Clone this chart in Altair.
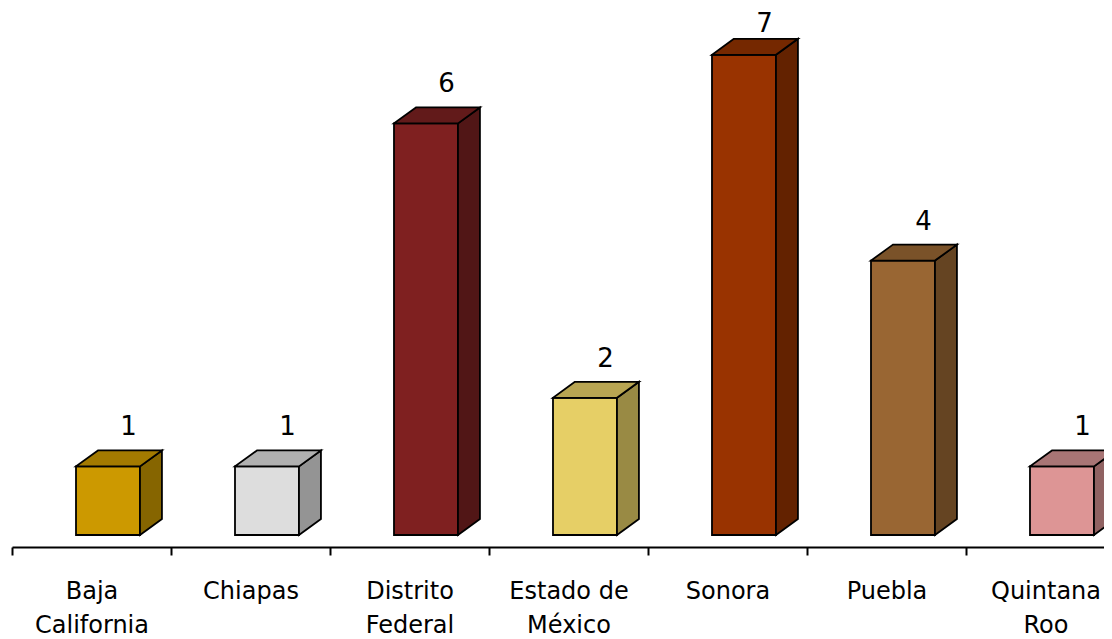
import altair as alt
import pandas as pd

# ---- data ----
categories = ["Baja California", "Chiapas", "Distrito Federal", "Estado de México",
              "Sonora", "Puebla", "Quintana Roo"]
tick_labels = ["Baja|California", "Chiapas", "Distrito|Federal", "Estado de|México",
               "Sonora", "Puebla", "Quintana|Roo"]
values = [1, 1, 6, 2, 7, 4, 1]
front_colors = ["#CC9900", "#DDDDDD", "#7F2020", "#E6CF66", "#993300", "#996633", "#DD9595"]
top_colors = ["#A37A00", "#B0B0B0", "#621A1A", "#B8A552", "#752800", "#7A5229", "#A87575"]
side_colors = ["#866500", "#949494", "#511616", "#998A44", "#632200", "#654422", "#906262"]

# ---- styling / geometry constants (in scale units) ----
BAR_START = 0.4025
BAR_WIDTH = 0.4025
DEPTH_X = 0.138
DEPTH_Y = 0.233
LABEL_SHIFT = 0.33
LABEL_GAP = 0.219
LABEL_MAX = 7.33
FONT = "DejaVu Sans"

front_rows, side_rows, top_rows, text_rows = [], [], [], []
for i, (c, v) in enumerate(zip(categories, values)):
    x0 = i + BAR_START
    x1 = x0 + BAR_WIDTH
    front_rows.append(dict(cat=c, x0=x0, x1=x1, y0=0, y1=v, fill=front_colors[i]))
    side_rows.append(dict(cat=c, x=x1, lo=0, hi=v, fill=side_colors[i]))
    side_rows.append(dict(cat=c, x=x1 + DEPTH_X, lo=DEPTH_Y, hi=v + DEPTH_Y, fill=side_colors[i]))
    top_rows.append(dict(cat=c, y=v, a=x0, b=x1, fill=top_colors[i]))
    top_rows.append(dict(cat=c, y=v + DEPTH_Y, a=x0 + DEPTH_X, b=x1 + DEPTH_X, fill=top_colors[i]))
    text_rows.append(dict(cat=c, x=x0 + LABEL_SHIFT,
                          y=min(v + DEPTH_Y + LABEL_GAP, LABEL_MAX), label=str(v)))

front_df = pd.DataFrame(front_rows)
side_df = pd.DataFrame(side_rows)
top_df = pd.DataFrame(top_rows)
text_df = pd.DataFrame(text_rows)

x_scale = alt.Scale(domain=[0, 6.868], nice=False, zero=False)
y_scale = alt.Scale(domain=[-0.175, 7.682], nice=False, zero=False)

label_array = "[" + ",".join("'" + t + "'" for t in tick_labels) + "]"
x_axis = alt.Axis(
    values=list(range(len(categories))),
    labelExpr="split(" + label_array + "[datum.value], '|')",
    labelOffset=79.5,
    labelFlush=False,
    labelOverlap=False,
    labelAlign="center",
    labelBaseline="top",
    labelFont=FONT,
    labelFontSize=24,
    labelColor="black",
    labelLineHeight=34,
    labelPadding=24,
    tickSize=8,
    tickWidth=2,
    tickColor="black",
    domainColor="black",
    domainWidth=2,
    grid=False,
    title=None,
)

front = alt.Chart(front_df).mark_rect(stroke="black", strokeWidth=1.8, clip=True).encode(
    x=alt.X("x0:Q", scale=x_scale, axis=x_axis),
    x2="x1:Q",
    y=alt.Y("y0:Q", scale=y_scale, axis=None),
    y2="y1:Q",
    color=alt.Color("fill:N", scale=None),
)

side = alt.Chart(side_df).mark_area(stroke="black", strokeWidth=1.8, clip=True,
                                    orient="vertical", opacity=1).encode(
    x=alt.X("x:Q", scale=x_scale, axis=x_axis),
    y=alt.Y("lo:Q", scale=y_scale, axis=None),
    y2="hi:Q",
    detail="cat:N",
    color=alt.Color("fill:N", scale=None),
)

top = alt.Chart(top_df).mark_area(stroke="black", strokeWidth=1.8, clip=True,
                                  orient="horizontal", opacity=1).encode(
    y=alt.Y("y:Q", scale=y_scale, axis=None),
    x=alt.X("a:Q", scale=x_scale, axis=x_axis),
    x2="b:Q",
    detail="cat:N",
    color=alt.Color("fill:N", scale=None),
)

text = alt.Chart(text_df).mark_text(font=FONT, fontSize=26, color="black",
                                    baseline="alphabetic", align="center").encode(
    x=alt.X("x:Q", scale=x_scale, axis=x_axis),
    y=alt.Y("y:Q", scale=y_scale, axis=None),
    text="label:N",
)

chart = alt.layer(front, side, top, text).properties(
    width=1092,
    height=539,
    autosize=alt.AutoSizeParams(type="none"),
    padding={"left": 4, "top": 0, "right": 0, "bottom": 92},
).configure(background="white").configure_view(stroke=None)

chart.save("out.html", embed_options={"renderer": "svg", "actions": False})
